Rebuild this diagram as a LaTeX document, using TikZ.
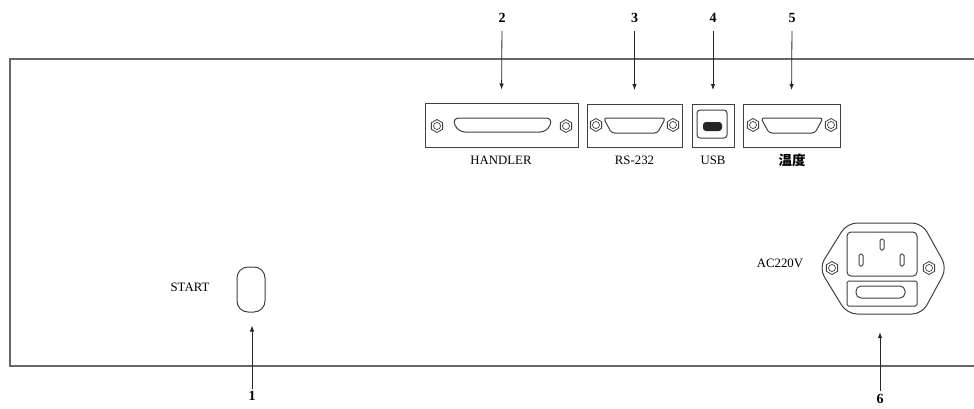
\documentclass[tikz,border=0pt]{standalone}
\usepackage{fontspec}
\setmainfont{Liberation Serif}
\newfontfamily\cjk{Noto Sans CJK SC}
\usetikzlibrary{arrows.meta,shapes.geometric}
\begin{document}
\begin{tikzpicture}[x=1pt,y=-1pt,
  frame/.style={draw=black!60, line width=1.6pt},
  port/.style={draw=black!75, line width=1pt, rectangle, inner sep=0pt},
  part/.style={draw=black!75, line width=1pt},
  nut/.style={draw=black!75, line width=0.8pt, regular polygon, regular polygon sides=6,
    minimum size=13pt, inner sep=0pt, rotate=30},
  num/.style={font=\bfseries\fontsize{14}{16}\selectfont, inner sep=1pt},
  lbl/.style={font=\fontsize{12.8}{14}\selectfont, inner sep=1pt},
  arr/.style={draw=black!85, line width=0.8pt, -{Latex[length=6pt,width=4.5pt]}},
  dsub/.pic={\draw[part, rounded corners=3pt] (0,-7.5) -- (31,-7.5) -- (23,7.5) -- (-23,7.5) -- (-31,-7.5) -- cycle;},
  nutpic/.pic={\node[nut] {}; \draw[black!75, line width=0.7pt] (0,0) circle (3.5);},
]
\useasboundingbox (0,0) rectangle (974,408);

% panel frame (open on the right)
\draw[frame] (974,59) -- (10,59) -- (10,366) -- (974,366);

% ports
\node[port, minimum width=153pt, minimum height=44pt] (handler) at (501.5,125) {};
\node[port, minimum width=95pt, minimum height=43pt] (rs) at (634.5,125.5) {};
\node[port, minimum width=42pt, minimum height=43pt] (usb) at (713,125.5) {};
\node[port, minimum width=97pt, minimum height=43pt] (temp) at (791.5,125.5) {};

% HANDLER connector
\draw[part, rounded corners=7pt] (502,118) -- (553,118) -- (547,132) -- (458,132) -- (452,118) -- cycle;
\pic at (437,126) {nutpic};
\pic at (566,126) {nutpic};

% RS-232 connector
\pic at (634.5,125.5) {dsub};
\pic at (596,125) {nutpic};
\pic at (673,125) {nutpic};

% USB connector
\draw[part, rounded corners=3pt] (697,110) rectangle (727,138);
\fill[black!85, rounded corners=3pt] (703,122) rectangle (722,131);

% temperature connector
\pic at (792,125.5) {dsub};
\pic at (753,125) {nutpic};
\pic at (831,125) {nutpic};

% labels under ports
\node[lbl] (handlerL) at (501,160) {HANDLER};
\node[lbl] (rsL) at (634.5,160) {RS-232};
\node[lbl] (usbL) at (713,160) {USB};
\node[lbl, font=\cjk\bfseries\fontsize{13.5}{15}\selectfont] (tempL) at (792,160) {温度};

% numbers and arrows at top
\node[num] (n2) at (502,18) {2};
\node[num] (n3) at (634.5,18) {3};
\node[num] (n4) at (713,18) {4};
\node[num] (n5) at (792,18) {5};
\draw[arr, shorten <=7pt, shorten >=13pt] (n2.south) -- (handler.north);
\draw[arr, shorten <=7pt, shorten >=13.5pt] (n3.south) -- (rs.north);
\draw[arr, shorten <=7pt, shorten >=13.5pt] (n4.south) -- (usb.north);
\draw[arr, shorten <=7pt, shorten >=13.5pt] (n5.south) -- (temp.north);

% START button
\node[lbl] (startL) at (190,287) {START};
\node[part, rounded corners=11pt, minimum width=28pt, minimum height=45pt, inner sep=0pt] (startbtn) at (251,289.5) {};
\node[num] (n1) at (252,396) {1};
\draw[arr, shorten <=1pt, shorten >=13pt] (n1.north) -- (n1.north |- startbtn.south);

% power inlet
\node[inner sep=0pt, minimum width=128pt, minimum height=91pt] (inlet) at (883,268.5) {};
\draw[part, rounded corners=10pt] (884,223) -- (922,223) -- (947,268) -- (922,314) -- (847,314) -- (819,268) -- (847,223) -- cycle;
\draw[part, rounded corners=4pt] (847,254) -- (847,232) -- (917,232) -- (917,276) -- (847,276) -- cycle;
\draw[part, rounded corners=1.5pt] (847,281) rectangle (917,306);
\draw[part, rounded corners=5pt] (856,286) rectangle (905,298);
\draw[part, rounded corners=1.5pt] (880,239) rectangle (884,250);
\draw[part, rounded corners=1.5pt] (859,254) rectangle (863,266);
\draw[part, rounded corners=1.5pt] (900,254) rectangle (904,266);
\pic at (832,268) {nutpic};
\pic at (929,268) {nutpic};
\node[lbl] (acL) at (780,263) {AC220V};
\node[num] (n6) at (880,399) {6};
\draw[arr, shorten <=2pt, shorten >=18pt] (n6.north) -- (n6.north |- inlet.south);
\end{tikzpicture}
\end{document}
